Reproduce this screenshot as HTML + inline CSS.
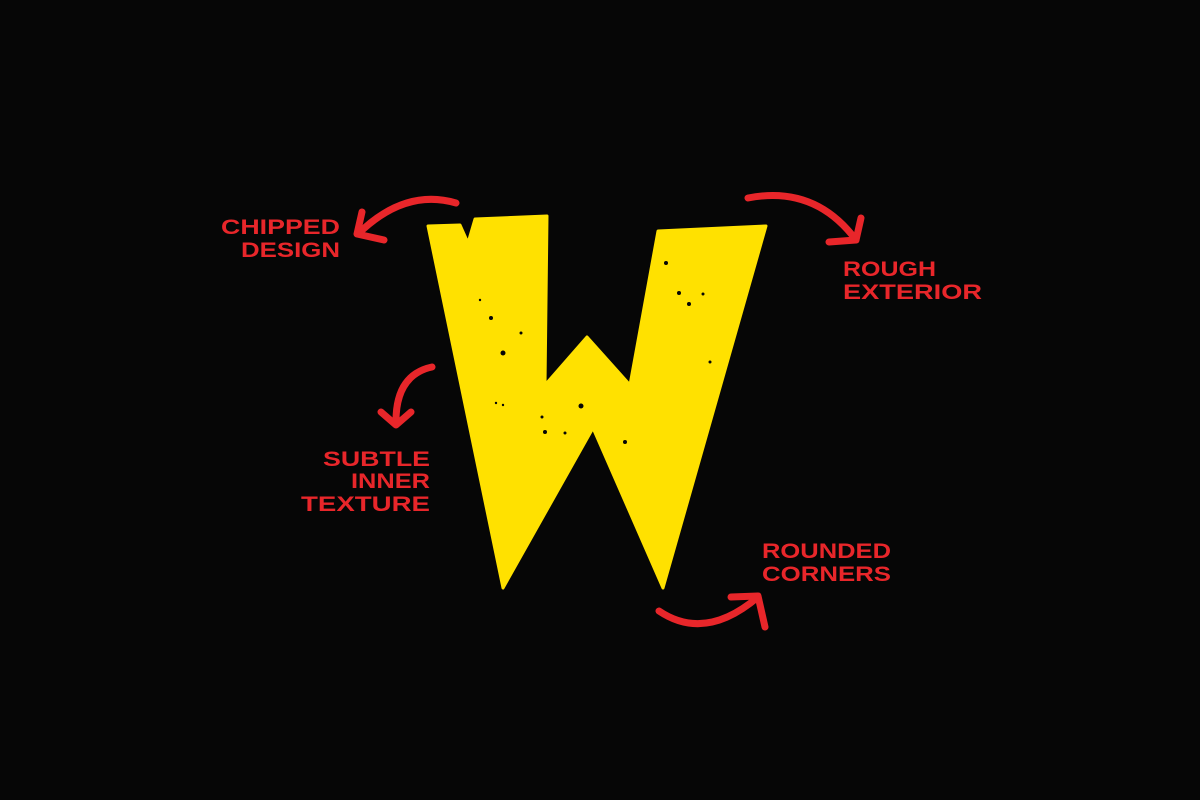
<!DOCTYPE html>
<html><head><meta charset="utf-8"><style>
html,body{margin:0;padding:0;background:#060606;}
svg{display:block}
text{font-family:"Liberation Sans",sans-serif;font-weight:bold;font-size:21px;fill:#e8262a;}
</style></head><body>
<svg width="1200" height="800" viewBox="0 0 1200 800">
<rect width="1200" height="800" fill="#060606"/>
<path d="M428,226 L460,225 L468,243 L475,219 L547,216 L545,385 L587,337 L630,385 L658,231 L766,226 L663,588 L593,428 L503,588 Z" fill="#ffe100" stroke="#ffe100" stroke-width="3" stroke-linejoin="round"/>
<g fill="#060606">
<circle cx="491" cy="318" r="2"/><circle cx="503" cy="353" r="2.5"/><circle cx="521" cy="333" r="1.5"/><circle cx="480" cy="300" r="1.2"/>
<circle cx="581" cy="406" r="2.5"/><circle cx="545" cy="432" r="2"/><circle cx="542" cy="417" r="1.5"/><circle cx="565" cy="433" r="1.5"/>
<circle cx="625" cy="442" r="2"/><circle cx="666" cy="263" r="2"/><circle cx="679" cy="293" r="2"/><circle cx="689" cy="304" r="2"/><circle cx="703" cy="294" r="1.5"/><circle cx="710" cy="362" r="1.5"/><circle cx="503" cy="405" r="1.2"/><circle cx="496" cy="403" r="1.2"/>
</g>
<g fill="none" stroke="#e8262a" stroke-width="7" stroke-linecap="round" stroke-linejoin="round">
<path d="M456,203 Q405,188 358,234"/><path d="M362,212 L357,234 L384,240"/>
<path d="M748,198 Q815,185 856,240"/><path d="M829,242 L856,240 L861,218"/>
<path d="M432,367 Q395,375 396,424"/><path d="M381,412 L396,425 L411,412"/>
<path d="M659,611 Q705,642 758,597"/><path d="M731,597 L758,596 L765,627"/>
</g>
<text x="340" y="234" text-anchor="end" textLength="119" lengthAdjust="spacingAndGlyphs">CHIPPED</text>
<text x="340" y="257" text-anchor="end" textLength="99" lengthAdjust="spacingAndGlyphs">DESIGN</text>
<text x="843" y="276" textLength="93" lengthAdjust="spacingAndGlyphs">ROUGH</text>
<text x="843" y="299" textLength="139" lengthAdjust="spacingAndGlyphs">EXTERIOR</text>
<text x="430" y="466" text-anchor="end" textLength="107" lengthAdjust="spacingAndGlyphs">SUBTLE</text>
<text x="430" y="488" text-anchor="end" textLength="79" lengthAdjust="spacingAndGlyphs">INNER</text>
<text x="430" y="511" text-anchor="end" textLength="129" lengthAdjust="spacingAndGlyphs">TEXTURE</text>
<text x="762" y="558" textLength="129" lengthAdjust="spacingAndGlyphs">ROUNDED</text>
<text x="762" y="581" textLength="129" lengthAdjust="spacingAndGlyphs">CORNERS</text>
</svg>
</body></html>
